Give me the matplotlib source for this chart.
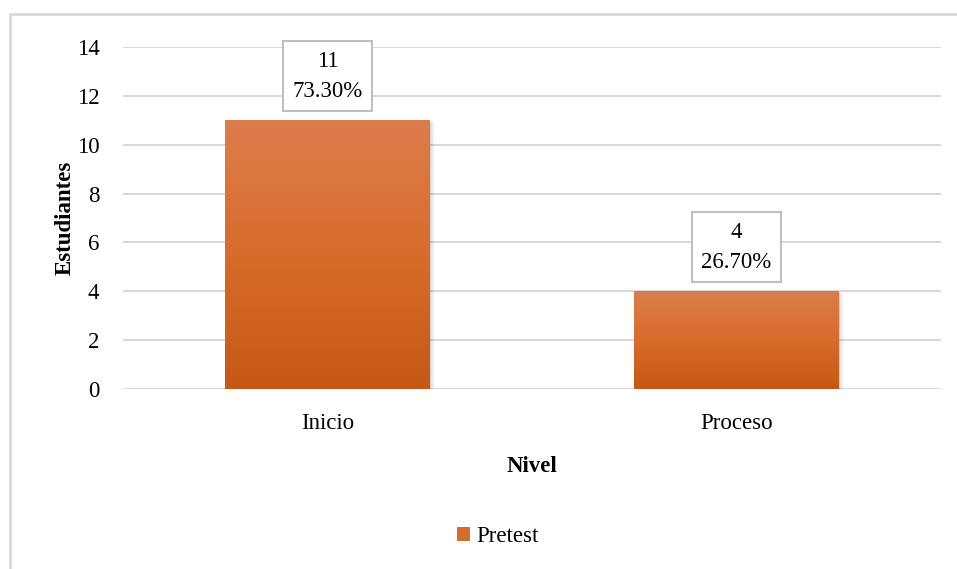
import matplotlib.pyplot as plt
import matplotlib.colors as mcolors
from matplotlib.patches import Rectangle
import numpy as np

categories = ['Inicio', 'Proceso']
counts = [11, 4]
percents = ['73.30%', '26.70%']
series_name = 'Pretest'

plt.rcParams['font.family'] = ['Liberation Serif', 'DejaVu Serif']

fig = plt.figure(figsize=(9.57, 5.69), dpi=100)
ax = fig.add_axes([123 / 957, 1 - 389 / 569, 818 / 957, 342 / 569])

# outer chart frame (only left and top edges visible in the reference)
fig.patches.append(Rectangle((10 / 957, -0.1), 1.2, 1 - 14 / 569 + 0.1,
                             transform=fig.transFigure, fill=False,
                             edgecolor='#D9D9D9', linewidth=2, zorder=0))

x = np.arange(len(categories))
bars = ax.bar(x, counts, width=0.5, color='#D66C2A', zorder=2, label=series_name)

# vertical gradient inside each bar
cmap = mcolors.LinearSegmentedColormap.from_list(
    'orange_grad', ['#C65815', '#D86C2B', '#DC7D4E'])
grad = np.linspace(0, 1, 256).reshape(-1, 1)
for bar in bars:
    bx, by, bw, bh = bar.get_x(), bar.get_y(), bar.get_width(), bar.get_height()
    # soft shadow on right side
    for i, a in enumerate([0.10, 0.06, 0.03]):
        ax.add_patch(Rectangle((bx + bw, by), 0.004 * (i + 1), bh - 0.05,
                               facecolor='#000000', alpha=a, lw=0, zorder=1.5))
    im = ax.imshow(grad, extent=[bx, bx + bw, by, by + bh], origin='lower',
                   cmap=cmap, aspect='auto', zorder=3)
    im.set_clip_path(bar)

for bar, n, p in zip(bars, counts, percents):
    ax.annotate(f'{n}\n{p}', xy=(bar.get_x() + bar.get_width() / 2, bar.get_height()),
                xytext=(0, 13), textcoords='offset points', ha='center', va='bottom',
                fontsize=16.5, linespacing=1.6, zorder=5,
                bbox=dict(boxstyle='square,pad=0.4', facecolor='white',
                          edgecolor='#BFBFBF', linewidth=1.5))

ax.set_xlim(-0.5, 1.5)
ax.set_ylim(0, 14)
ax.set_yticks(range(0, 15, 2))
ax.set_xticks(x)
ax.set_xticklabels(categories)
ax.tick_params(axis='both', length=0, labelsize=16.5)
ax.tick_params(axis='y', pad=17)
ax.tick_params(axis='x', pad=17)
ax.grid(axis='y', color='#D9D9D9', linewidth=1.5, zorder=0)
ax.set_axisbelow(True)
for s in ax.spines.values():
    s.set_visible(False)

ax.set_ylabel('Estudiantes', fontsize=16.5, fontweight='bold', labelpad=1)
ax.set_xlabel('Nivel', fontsize=16.5, fontweight='bold', labelpad=16)

ax.legend(loc='center', bbox_to_anchor=(498 / 957, 1 - 537 / 569),
          bbox_transform=fig.transFigure, frameon=False, fontsize=16.5,
          handlelength=0.55, handleheight=0.55, handletextpad=0.3)

fig.savefig('out.png', dpi=100)
